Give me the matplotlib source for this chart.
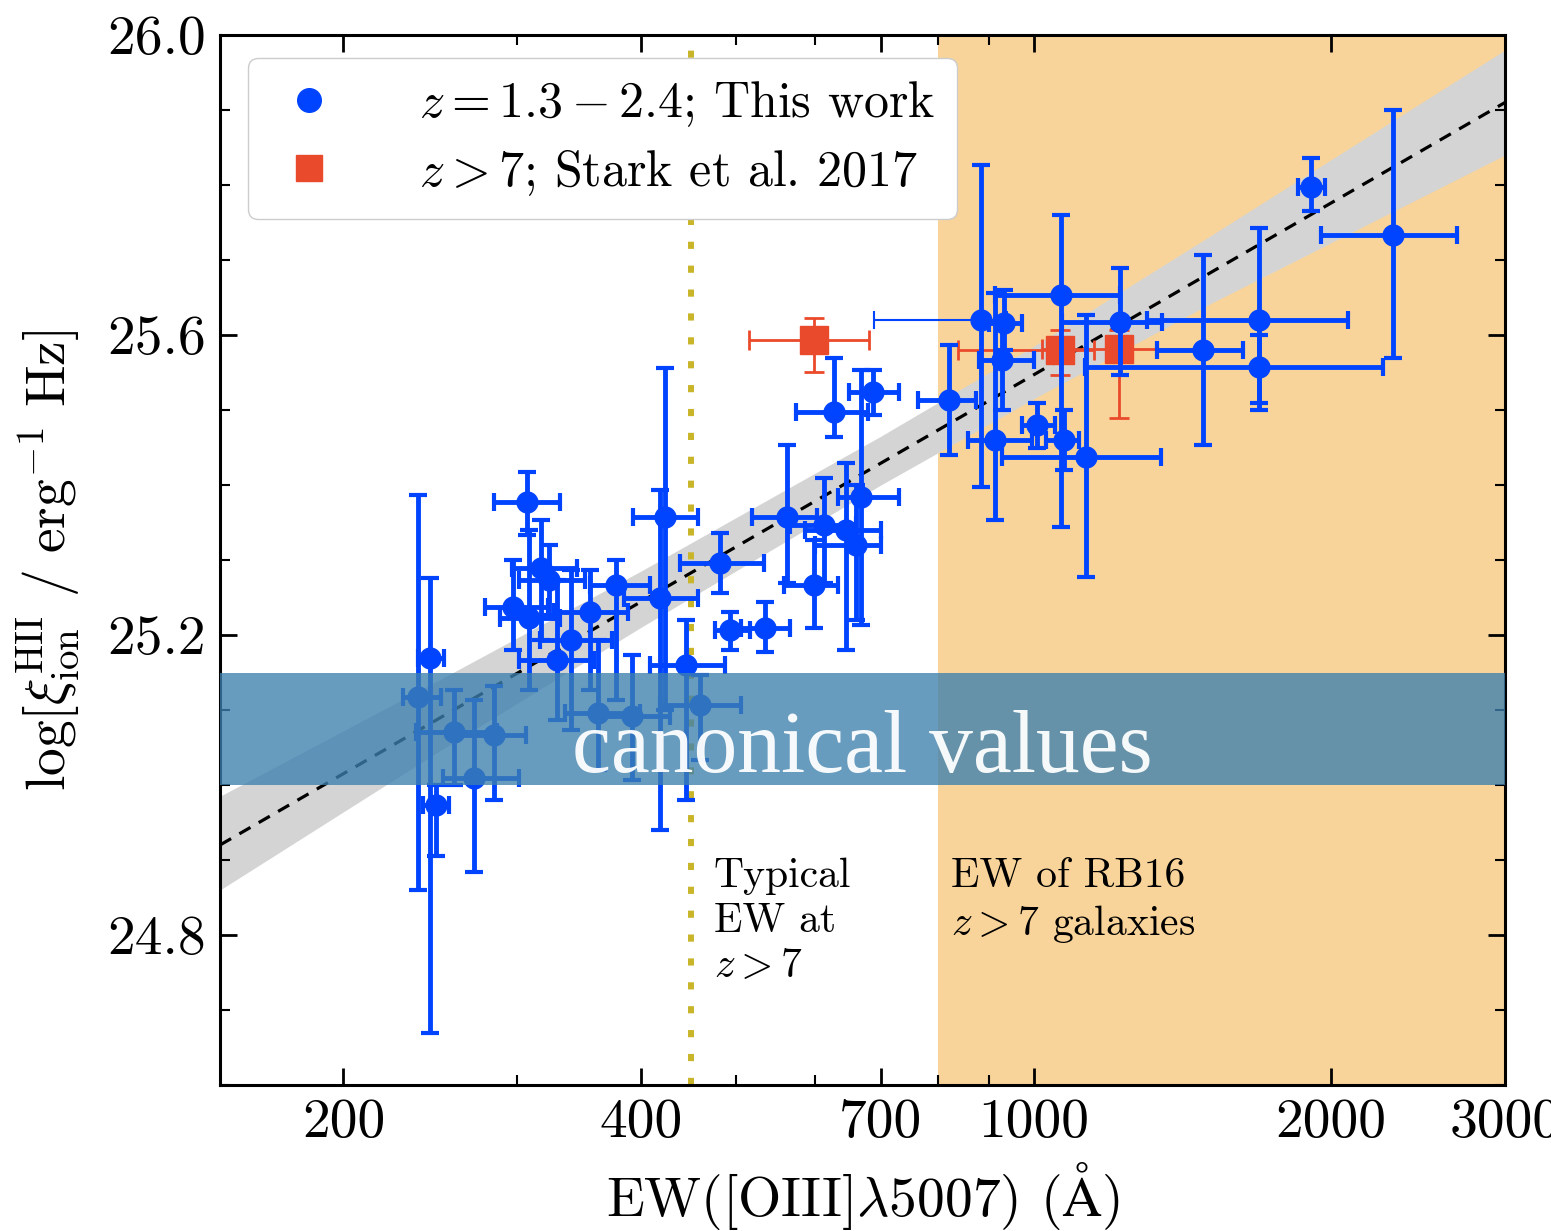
import numpy as np
import matplotlib
matplotlib.use('Agg')
from matplotlib import pyplot as plt
from matplotlib.lines import Line2D
from matplotlib.ticker import NullFormatter
import matplotlib.transforms as mtransforms

plt.rcParams['font.family'] = 'cmr10'
plt.rcParams['mathtext.fontset'] = 'cm'
plt.rcParams['axes.unicode_minus'] = False
plt.rcParams['axes.formatter.use_mathtext'] = True

# z = 1.3-2.4 sample: EW (A) with lower/upper bounds, log xi_ion with lower/upper bounds
ew = [238, 245, 248, 259, 271, 284, 307, 297, 308, 317, 323, 329, 340, 355, 378,
      362, 392, 418, 423, 445, 459, 481, 493, 535, 563, 627, 687, 599, 613, 645,
      668, 660, 820, 885, 934, 928, 914, 1065, 1129, 1223, 1484, 1690, 1690, 1908,
      2312, 1007, 1073]
ew_lo = [230, 238, 241, 237, 252, 259, 284, 278, 288, 296, 301, 301, 316, 327, 355,
         335, 362, 385, 393, 409, 418, 438, 476, 505, 519, 574, 650, 558, 567, 587,
         633, 600, 764, 689, 900, 880, 858, 914, 929, 1067, 1333, 1303, 1126, 1851,
         1954, 972, 1030]
ew_hi = [251, 253, 256, 286, 301, 306, 331, 322, 331, 345, 351, 359, 374, 388, 409,
         399, 428, 457, 457, 487, 505, 533, 516, 567, 604, 679, 730, 633, 660, 700,
         730, 700, 875, 940, 972, 1000, 995, 1222, 1345, 1349, 1630, 2082, 2259, 1970,
         2680, 1050, 1110]
xi = [25.117, 25.169, 24.973, 25.071, 25.009, 25.067, 25.377, 25.237, 25.223, 25.289,
      25.273, 25.167, 25.193, 25.231, 25.267, 25.096, 25.092, 25.249, 25.357, 25.160,
      25.107, 25.296, 25.207, 25.209, 25.357, 25.497, 25.524, 25.267, 25.347, 25.340,
      25.384, 25.320, 25.513, 25.620, 25.616, 25.567, 25.460, 25.653, 25.437, 25.617,
      25.580, 25.620, 25.557, 25.797, 25.733, 25.480, 25.460]
xi_lo = [24.860, 24.669, 24.905, 25.000, 24.884, 24.980, 25.333, 25.180, 25.127, 25.193,
         25.227, 25.087, 25.073, 25.127, 25.113, 25.020, 25.007, 24.940, 25.100, 24.980,
         25.033, 25.256, 25.180, 25.177, 25.269, 25.464, 25.493, 25.209, 25.270, 25.180,
         25.213, 25.220, 25.440, 25.397, 25.580, 25.500, 25.353, 25.344, 25.277, 25.547,
         25.453, 25.500, 25.509, 25.765, 25.570, 25.450, 25.420]
xi_hi = [25.387, 25.276, 25.000, 25.127, 25.113, 25.132, 25.417, 25.300, 25.340, 25.353,
         25.320, 25.273, 25.287, 25.287, 25.300, 25.193, 25.173, 25.393, 25.556, 25.220,
         25.147, 25.336, 25.231, 25.244, 25.453, 25.569, 25.553, 25.327, 25.410, 25.430,
         25.553, 25.400, 25.587, 25.827, 25.660, 25.620, 25.656, 25.760, 25.627, 25.689,
         25.707, 25.743, 25.600, 25.836, 25.900, 25.510, 25.500]

# z > 7, Stark et al. 2017
stark_ew = [599, 1062, 1220]
stark_ew_lo = [515, 839, 1019]
stark_ew_hi = [681, 1150, 1482]
stark_xi = [25.593, 25.580, 25.581]
stark_xi_lo = [25.551, 25.547, 25.489]
stark_xi_hi = [25.623, 25.607, 25.607]

# best fit and its 1 sigma band
fit_ew = [150, 3000]
fit_xi = [24.92, 25.91]
band_ew = [150, 250, 400, 700, 1000, 1500, 3000]
band_lo = [24.86, 25.045, 25.21, 25.40, 25.515, 25.64, 25.84]
band_hi = [24.985, 25.14, 25.285, 25.465, 25.585, 25.73, 25.98]

typical_ew = 450
rb16_ew = [800, 3000]
canonical = [25.0, 25.15]

blue = '#0044ff'
red = '#ea4a2c'

ew = np.array(ew); ew_lo = np.array(ew_lo); ew_hi = np.array(ew_hi)
xi = np.array(xi); xi_lo = np.array(xi_lo); xi_hi = np.array(xi_hi)
xerr = np.array([ew - ew_lo, ew_hi - ew])
yerr = np.array([xi - xi_lo, xi_hi - xi])

fig = plt.figure(figsize=(15.51, 12.31), dpi=100)
ax = fig.add_axes([220/1551, 1-1085/1231, 1285/1551, 1050/1231])
ax.set_xscale('log')

ax.axvspan(rb16_ew[0], rb16_ew[1], color='#f9d49a', lw=0, zorder=0)
ax.fill_between(band_ew, band_lo, band_hi, color='#d4d4d4', lw=0, zorder=1)
ax.plot(fit_ew, fit_xi, color='k', ls=(0, (4, 3)), lw=2.3, zorder=2)
ax.axvline(typical_ew, color='#c9b52a', ls=(0, (1.2, 2.8)), lw=4.3, zorder=2)

# the point at index 33 has a thin horizontal error bar
thin = 33
thick = np.array([i for i in range(len(ew)) if i != thin])
ebkw = dict(fmt='o', ms=15, color=blue, ecolor=blue, elinewidth=3.5,
            capsize=6.5, capthick=3, zorder=4)
ax.errorbar(ew[thick], xi[thick], xerr=xerr[:, thick], yerr=yerr[:, thick], **ebkw)
ax.errorbar(ew[[thin]], xi[[thin]], yerr=yerr[:, [thin]], **ebkw)
ax.errorbar(ew[[thin]], xi[[thin]], xerr=xerr[:, [thin]], fmt='none', ecolor=blue,
            elinewidth=1.5, capsize=6.5, capthick=1.5, zorder=4)

sxerr = [np.array(stark_ew) - np.array(stark_ew_lo), np.array(stark_ew_hi) - np.array(stark_ew)]
syerr = [np.array(stark_xi) - np.array(stark_xi_lo), np.array(stark_xi_hi) - np.array(stark_xi)]
ax.errorbar(stark_ew, stark_xi, xerr=sxerr, yerr=syerr, fmt='s', ms=20, color=red,
            ecolor=red, elinewidth=2, capsize=7, capthick=2, zorder=3)

ax.text(474, 24.903, 'Typical\nEW at\n$z>7$', fontsize=30, va='top', ha='left',
        linespacing=1.25, zorder=3)
ax.text(825, 24.903, 'EW of RB16\n$z>7$ galaxies', fontsize=30, va='top', ha='left',
        linespacing=1.25, zorder=3)

ax.set_xlim(150, 3000)
ax.set_ylim(24.6, 26.0)
ax.set_xticks([200, 400, 700, 1000, 2000, 3000])
ax.set_xticklabels(['200', '400', '700', '1000', '2000', '3000'])
ax.set_xticks([300, 500, 600, 800, 900], minor=True)
ax.xaxis.set_minor_formatter(NullFormatter())
ax.set_yticks([24.8, 25.2, 25.6, 26.0])
ax.set_yticklabels(['24.8', '25.2', '25.6', '26.0'])
ax.set_yticks(np.arange(24.6, 26.01, 0.1), minor=True)
ax.tick_params(which='both', direction='in', top=True, right=True, labelsize=40)
ax.tick_params(which='major', length=12, width=2, pad=10)
ax.tick_params(which='minor', length=7, width=1.5)
for s in ax.spines.values():
    s.set_linewidth(2.2)

ax.set_xlabel(r'EW([OIII]$\lambda$5007) ($\mathrm{\AA}$)', fontsize=40, labelpad=8)
ax.set_ylabel(r'$\log[\xi_{\rm ion}^{\rm HII}\ /\ {\rm erg}^{-1}\ {\rm Hz}]$',
              fontsize=40, labelpad=18)

handles = [Line2D([], [], ls='none', marker='o', ms=17, color=blue),
           Line2D([], [], ls='none', marker='s', ms=19, color=red)]
leg = ax.legend(handles, [r'$z=1.3-2.4$; This work', r'$z>7$; Stark et al. 2017'],
                loc='upper left', bbox_to_anchor=(0.022, 0.978), borderaxespad=0,
                fontsize=36, frameon=True, fancybox=True, framealpha=1,
                edgecolor='#cccccc', handlelength=1.6, handletextpad=1.4,
                labelspacing=0.38, borderpad=0.42)
leg.set_zorder(6)

# overlay band across the plot
ax.axhspan(canonical[0], canonical[1], color='#3d80ae', alpha=0.78, lw=0, zorder=10)
trans = mtransforms.blended_transform_factory(ax.transAxes, ax.transData)
ax.text(0.5, 25.017, 'canonical values', transform=trans, ha='center', va='baseline',
        fontsize=63, color='white', alpha=0.95, family='Liberation Serif', zorder=11)

fig.savefig('out.png', dpi=100)
